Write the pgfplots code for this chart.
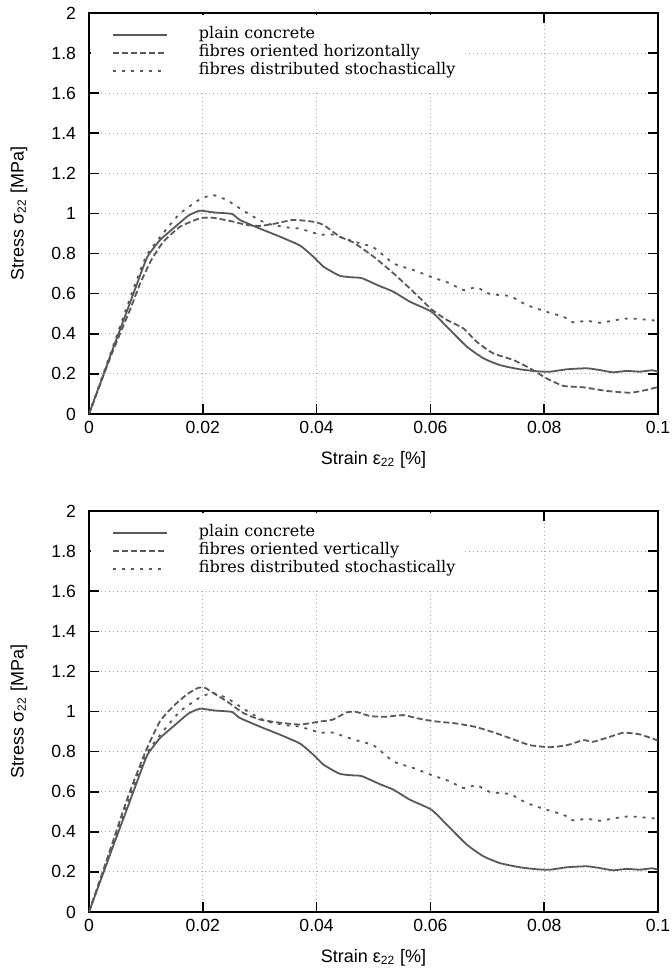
\documentclass[border=0pt]{standalone}
\usepackage{fontspec}
\setmainfont{Liberation Sans}
\newfontfamily\legfont{DejaVu Serif}
\usepackage{pgfplots}
\usepackage{pgfplotstable}
\pgfplotsset{compat=1.18}

% plain concrete (same in both tests)
\pgfplotstableread{
x y
0 0
0.002 0.155
0.004 0.31
0.0063 0.485
0.0078 0.60
0.0102 0.78
0.0125 0.868
0.0150 0.93
0.0175 0.99
0.0195 1.014
0.0220 1.005
0.0251 0.998
0.0265 0.968
0.0300 0.925
0.0336 0.884
0.0371 0.840
0.0394 0.785
0.0412 0.735
0.0440 0.69
0.0460 0.682
0.0479 0.678
0.0511 0.638
0.0535 0.61
0.0564 0.56
0.0602 0.51
0.0629 0.435
0.0664 0.336
0.0693 0.278
0.0722 0.244
0.0757 0.223
0.0787 0.213
0.0810 0.211
0.0840 0.223
0.0875 0.228
0.0898 0.219
0.0921 0.208
0.0945 0.215
0.0968 0.211
0.0989 0.218
0.1000 0.212
}\plain

% fibres distributed stochastically
\pgfplotstableread{
x y
0 0
0.004 0.32
0.0075 0.60
0.0101 0.79
0.0137 0.925
0.0160 1.0
0.0195 1.071
0.0218 1.092
0.0242 1.067
0.0265 1.026
0.0289 0.984
0.0312 0.951
0.0347 0.931
0.0371 0.924
0.0406 0.895
0.0428 0.895
0.0465 0.86
0.0500 0.831
0.0535 0.751
0.0570 0.718
0.0605 0.68
0.0634 0.652
0.0658 0.618
0.0681 0.632
0.0705 0.598
0.0740 0.588
0.0769 0.544
0.0804 0.51
0.0834 0.485
0.0851 0.457
0.0875 0.465
0.0898 0.455
0.0927 0.469
0.0951 0.477
0.1000 0.465
}\stoch

% fibres oriented horizontally
\pgfplotstableread{
x y
0 0
0.004 0.30
0.0072 0.519
0.0090 0.652
0.0110 0.77
0.0131 0.86
0.0160 0.934
0.0195 0.976
0.0218 0.979
0.0254 0.959
0.0277 0.943
0.0300 0.938
0.0324 0.948
0.0359 0.968
0.0394 0.959
0.0412 0.943
0.0441 0.884
0.0465 0.855
0.0500 0.785
0.0535 0.702
0.0570 0.61
0.0602 0.522
0.0629 0.469
0.0658 0.427
0.0681 0.361
0.0710 0.303
0.0746 0.269
0.0775 0.228
0.0804 0.178
0.0834 0.14
0.0869 0.133
0.0910 0.115
0.0951 0.106
0.0980 0.12
0.1000 0.135
}\horiz

% fibres oriented vertically
\pgfplotstableread{
x y
0 0
0.003 0.25
0.0069 0.579
0.0101 0.811
0.0125 0.952
0.0148 1.026
0.0172 1.085
0.0192 1.118
0.0204 1.118
0.0218 1.093
0.0242 1.051
0.0271 0.993
0.0300 0.96
0.0336 0.944
0.0371 0.935
0.0406 0.95
0.0429 0.96
0.0453 0.996
0.0470 0.998
0.0494 0.977
0.0523 0.974
0.0552 0.982
0.0582 0.963
0.0605 0.952
0.0646 0.94
0.0681 0.922
0.0716 0.891
0.0746 0.861
0.0775 0.832
0.0810 0.822
0.0840 0.832
0.0869 0.857
0.0886 0.849
0.0910 0.869
0.0939 0.894
0.0968 0.886
0.1000 0.855
}\vert

\pgfplotsset{
  stressplot/.style={
    scale only axis, width=284.5pt, height=200.5pt,
    xmin=0, xmax=0.1, ymin=0, ymax=2,
    xtick={0,0.02,0.04,0.06,0.08,0.1},
    ytick={0,0.2,0.4,0.6,0.8,1,1.2,1.4,1.6,1.8,2},
    scaled ticks=false,
    xticklabel style={/pgf/number format/fixed, /pgf/number format/precision=2},
    yticklabel style={/pgf/number format/fixed, /pgf/number format/precision=1, xshift=-3pt},
    /pgf/number format/assume math mode=true,
    ticklabel style={font=\fontsize{8.8}{10}\selectfont},
    label style={font=\fontsize{9}{11}\selectfont},
    tick align=inside, major tick length=5pt,
    tick style={black, line width=0.8pt},
    axis line style={black, line width=0.8pt},
    grid=major,
    grid style={gray!70, line width=0.5pt, dash pattern=on 0.5pt off 1.5pt},
    xlabel={Strain ε\textsubscript{22} [\%]},
    ylabel={Stress σ\textsubscript{22} [MPa]},
    xlabel style={at={(axis description cs:0.5,-0.1147)}, anchor=center},
    ylabel style={at={(axis description cs:-0.123,0.5)}, anchor=center, rotate=0},
    legend cell align=left,
    legend image code/.code={\path (-6.5pt,0pt); \draw[##1] (0pt,0pt) -- (27pt,0pt);},
    legend style={at={(axis description cs:0.003,0.997)}, anchor=north west,
      draw=none, fill=white, font=\legfont\fontsize{8}{9}\selectfont,
      inner xsep=4pt, inner ysep=5.5pt, row sep=0pt, column sep=15.5pt,
      nodes={inner sep=0pt, text height=6.5pt, text depth=2.5pt}},
  },
  plainline/.style={black!65, line width=0.9pt, smooth, tension=0.3},
  dashline/.style={black!65, line width=0.9pt, dash pattern=on 3pt off 1.5pt, smooth, tension=0.3},
  dotline/.style={black!65, line width=0.9pt, dash pattern=on 1.5pt off 3pt, smooth, tension=0.3},
}

\begin{document}
\begin{tikzpicture}
\begin{axis}[stressplot, at={(0,0)}, anchor=south west]
\addplot[plainline] table {\plain};
\addlegendentry{plain concrete}
\addplot[dashline] table {\horiz};
\addlegendentry{fibres oriented horizontally}
\addplot[dotline] table {\stoch};
\addlegendentry{fibres distributed stochastically}
\end{axis}
\begin{axis}[stressplot, at={(0,-48.5pt)}, anchor=north west]
\addplot[plainline] table {\plain};
\addlegendentry{plain concrete}
\addplot[dashline] table {\vert};
\addlegendentry{fibres oriented vertically}
\addplot[dotline] table {\stoch};
\addlegendentry{fibres distributed stochastically}
\end{axis}
\pgfresetboundingbox
\path[use as bounding box] (-44.5pt,-279.5pt) rectangle (291pt,207pt);
\end{tikzpicture}
\end{document}
